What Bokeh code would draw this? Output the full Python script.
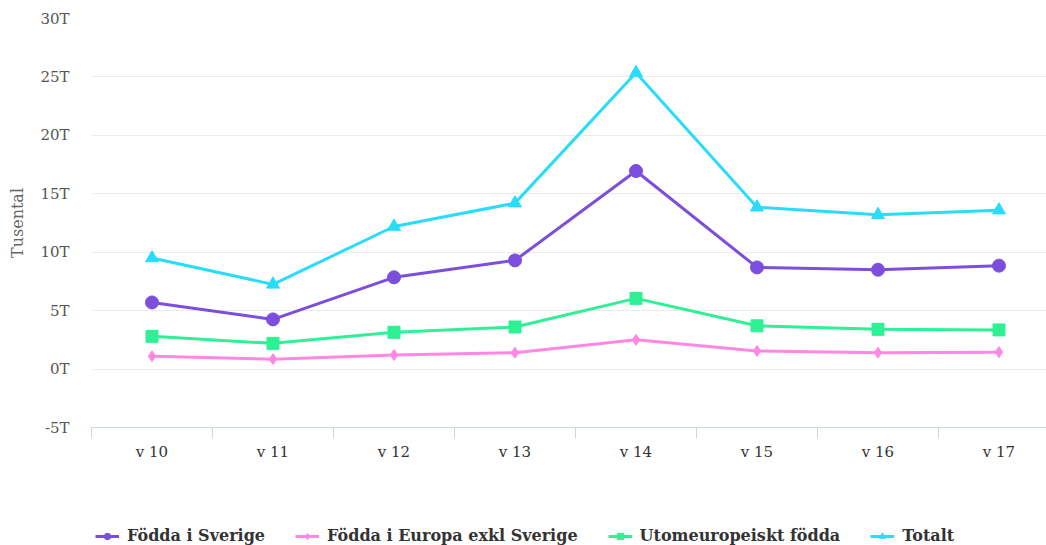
import numpy as np
from bokeh.plotting import figure
from bokeh.layouts import column
from bokeh.models import Range1d, FixedTicker, Legend, LegendItem, ColumnDataSource
from bokeh.embed import file_html
from bokeh.resources import INLINE

weeks = ["v 10", "v 11", "v 12", "v 13", "v 14", "v 15", "v 16", "v 17"]
fodda_sverige = [5.7, 4.25, 7.85, 9.3, 16.95, 8.7, 8.5, 8.85]
fodda_europa = [1.1, 0.85, 1.2, 1.4, 2.5, 1.55, 1.4, 1.45]
utomeuropeiskt = [2.8, 2.2, 3.15, 3.6, 6.05, 3.7, 3.4, 3.35]
totalt = [9.5, 7.25, 12.2, 14.2, 25.35, 13.85, 13.2, 13.6]
series_names = ["Födda i Sverige", "Födda i Europa exkl Sverige", "Utomeuropeiskt födda", "Totalt"]
y_ticks = [-5, 0, 5, 10, 15, 20, 25, 30]

colors = ["#7b4fdc", "#ff88e5", "#2ef095", "#29dcfa"]
markers = ["circle", "diamond", "square", "triangle"]
msizes = [13, 11, 12, 13]

FONT = "DejaVu Serif"

n = len(weeks)
centers = list(np.arange(n) + 0.5)
edges = list(np.arange(n + 1).astype(float))

p = figure(width=1046, height=463, output_backend="svg", toolbar_location=None,
           x_range=Range1d(0, 955 / 121), y_range=Range1d(-5, 30),
           min_border_left=91, min_border_right=0, min_border_top=18, min_border_bottom=31)
p.outline_line_color = None
p.background_fill_color = "white"

# x axis
p.xaxis.ticker = FixedTicker(ticks=centers, minor_ticks=edges)
p.xaxis.major_label_overrides = {c: w for c, w in zip(centers, weeks)}
p.xaxis.major_tick_out = 0
p.xaxis.major_tick_in = 0
p.xaxis.minor_tick_out = 11
p.xaxis.minor_tick_in = 0
p.xaxis.minor_tick_line_color = "#ccd6eb"
p.xaxis.axis_line_color = "#ccd6eb"
p.xaxis.major_label_text_font = FONT
p.xaxis.major_label_text_font_size = "15px"
p.xaxis.major_label_text_color = "#333333"
p.xaxis.major_label_standoff = 4
p.xgrid.grid_line_color = None

# y axis
p.yaxis.ticker = FixedTicker(ticks=y_ticks)
p.yaxis.major_label_overrides = {t: f"{t}T" for t in y_ticks}
p.yaxis.axis_line_color = None
p.yaxis.major_tick_line_color = None
p.yaxis.minor_tick_line_color = None
p.yaxis.major_label_text_font = FONT
p.yaxis.major_label_text_font_size = "15px"
p.yaxis.major_label_text_color = "#555555"
p.yaxis.major_label_standoff = 16
p.yaxis.axis_label = "Tusental"
p.yaxis.axis_label_text_font = FONT
p.yaxis.axis_label_text_font_style = "normal"
p.yaxis.axis_label_text_font_size = "16px"
p.yaxis.axis_label_text_color = "#666666"
p.yaxis.axis_label_standoff = 10
p.ygrid.grid_line_color = "#ebebeb"
p.ygrid.grid_line_width = 1

# legend strip (separate figure; its copies of the series lie outside its view)
p2 = figure(width=1046, height=82, output_backend="svg", toolbar_location=None,
            x_range=Range1d(100, 101), y_range=Range1d(100, 101),
            x_axis_location=None, y_axis_location=None, min_border=0)
p2.outline_line_color = None
p2.grid.visible = False

all_series = [fodda_sverige, fodda_europa, utomeuropeiskt, totalt]
items = []
for name, vals, c, m, s in zip(series_names, all_series, colors, markers, msizes):
    src = ColumnDataSource(dict(x=centers, y=vals))
    p.line("x", "y", source=src, line_color=c, line_width=3)
    p.scatter("x", "y", source=src, marker=m, size=s, fill_color=c, line_color=c)
    r1 = p2.line("x", "y", source=src, line_color=c, line_width=3)
    r2 = p2.scatter("x", "y", source=src, marker=m, size=s, fill_color=c, line_color=c)
    items.append(LegendItem(label=name, renderers=[r1, r2]))

legend = Legend(items=items, orientation="horizontal", location=(4, 0),
                label_text_font=FONT, label_text_font_size="16px", label_text_font_style="bold",
                label_text_color="#333333", spacing=30, glyph_width=24, glyph_height=16,
                border_line_color=None, background_fill_alpha=0, padding=4, margin=0,
                label_standoff=8)
p2.add_layout(legend, "center")

layout = column(p, p2, spacing=0)
open("out.html", "w").write(file_html(layout, INLINE))
